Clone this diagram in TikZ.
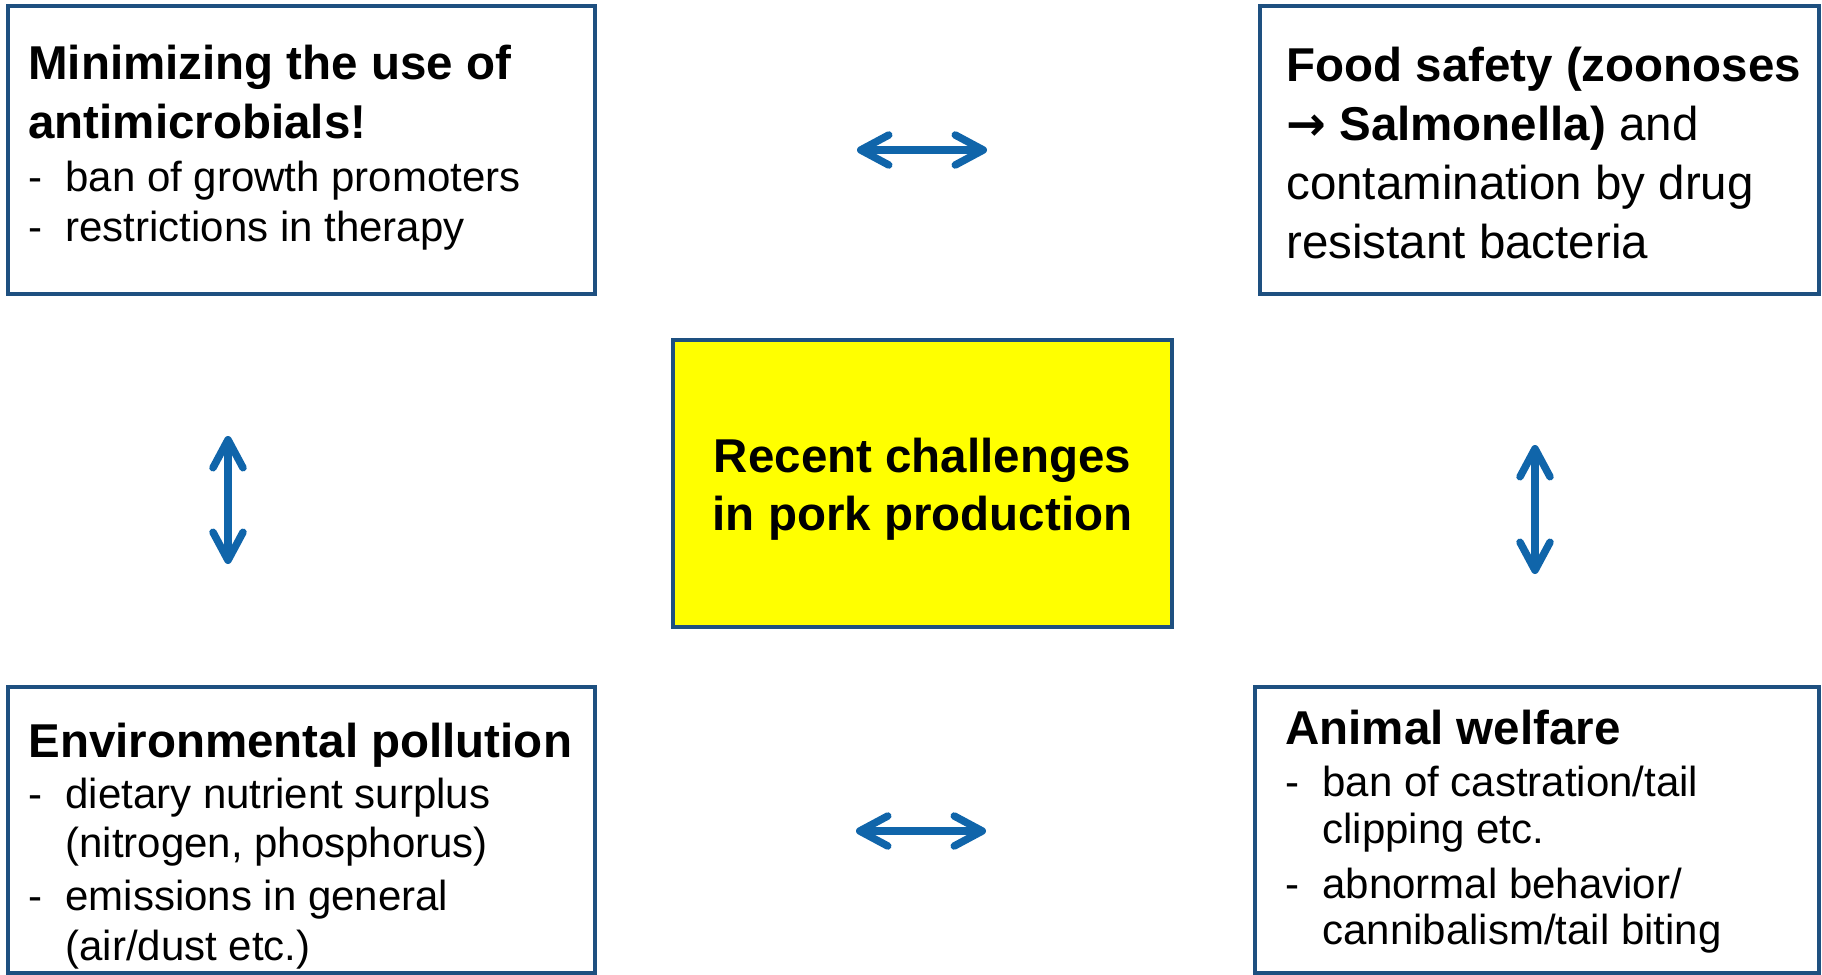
\documentclass[tikz,border=0pt]{standalone}
\usepackage{fontspec}
\setmainfont{Liberation Sans}
\newfontfamily\arrowfont{DejaVu Sans}
\usepackage{xcolor}
\usetikzlibrary{positioning,arrows.meta}

\definecolor{boxblue}{RGB}{30,80,128}
\definecolor{arrowblue}{RGB}{16,101,170}
\definecolor{coreyellow}{RGB}{255,255,0}

\newcommand{\headfont}{\fontsize{23.75pt}{29pt}\selectfont\bfseries}
\newcommand{\itemfont}{\fontsize{21pt}{23.25pt}\selectfont}
\newcommand{\bigfont}{\fontsize{23.75pt}{29.5pt}\selectfont}
\newcommand{\bul}{\makebox[18.5pt][l]{-}}
\newcommand{\contline}{\hspace*{18.5pt}}

\begin{document}
\begin{tikzpicture}[x=0.5pt, y=0.5pt,
    box/.style={rectangle, draw=boxblue, line width=2pt, fill=white, outer sep=0pt, inner sep=0pt, minimum height=144pt},
    txt/.style={anchor=north west, inner sep=0pt, align=left, font=\itemfont},
    link/.style={draw=arrowblue, line width=3.75pt, >={Straight Barb[length=14pt, width=15pt, round]}, <->}]

    \useasboundingbox (0,0) rectangle (1822,-975);

    % Main boxes
    \node[box, minimum width=293.5pt] (amr) at (301.5,-150) {};
    \node[box, minimum width=279.5pt] (food) at (1539.5,-150) {};
    \node[box, minimum width=249.5pt, minimum height=143.5pt, fill=coreyellow] (core) at (922.5,-483.5) {};
    \node[box, minimum width=293.5pt, minimum height=143pt] (env) at (301.5,-830) {};
    \node[box, minimum width=282pt, minimum height=143pt] (welfare) at (1537,-830) {};

    % Texts in the boxes
    \node[txt, below right=19.2pt and 10pt of amr.north west] (amrtxt) {%
        {\headfont Minimizing the use of}\\[6.25pt]
        {\headfont antimicrobials!}\\[3.25pt]
        \bul ban of growth promoters\\[1.75pt]
        \bul restrictions in therapy};

    \node[txt, font=\bigfont, below right=20.5pt and 13pt of food.north west] (foodtxt) {%
        {\bfseries Food safety (zoonoses}\\
        {\arrowfont\bfseries →}{\bfseries\ Salmonella)} and\\
        contamination by drug\\
        resistant bacteria};

    \node[align=center, font=\headfont, inner sep=0pt] (coretxt) at ([yshift=-3pt]core.center) {%
        Recent challenges\\in pork production};

    \node[txt, below right=17.9pt and 10pt of env.north west] (envtxt) {%
        {\headfont Environmental pollution}\\[2.4pt]
        \bul dietary nutrient surplus\\[1.15pt]
        \contline (nitrogen, phosphorus)\\[2.9pt]
        \bul emissions in general\\[1.75pt]
        \contline (air/dust etc.)};

    \node[txt, below right=11.4pt and 15pt of welfare.north west] (welfaretxt) {%
        {\headfont Animal welfare}\\[2.75pt]
        \bul ban of castration/tail\\
        \contline clipping etc.\\[4.25pt]
        \bul abnormal behavior/\\
        \contline cannibalism/tail biting};

    % Arrow ends between the boxes
    \coordinate (top1) at (857,-150);
    \coordinate (top2) at (987,-150);
    \coordinate (bot1) at (856,-831);
    \coordinate (bot2) at (986,-831);
    \coordinate (left1) at (228,-436);
    \coordinate (left2) at (228,-564);
    \coordinate (right1) at (1535,-445);
    \coordinate (right2) at (1535,-574);

    % Double arrows
    \draw[link] (top1) -- (top2);
    \draw[link] (bot1) -- (bot2);
    \draw[link] (left1) -- (left2);
    \draw[link] (right1) -- (right2);
\end{tikzpicture}
\end{document}
